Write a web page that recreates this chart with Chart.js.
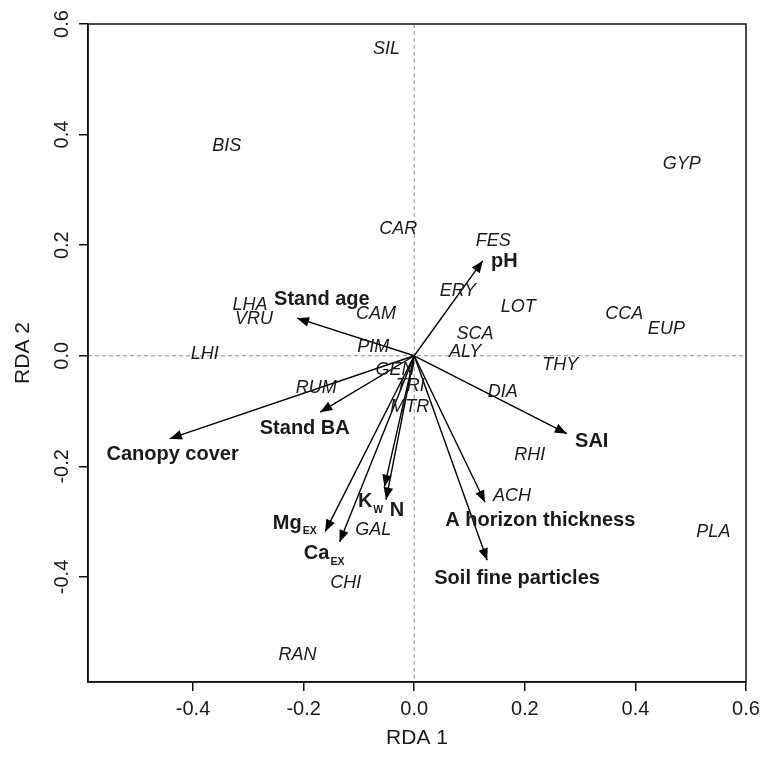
<!DOCTYPE html>
<html><head><meta charset="utf-8">
<script src="https://cdn.jsdelivr.net/npm/chart.js@4/dist/chart.umd.min.js"></script>
<style>html,body{margin:0;padding:0;background:#fff}</style>
</head><body>
<canvas id="c" width="762" height="757"></canvas>
<script>
// Species scores (label positions)
const speciesNames = ['SIL','BIS','GYP','CAR','FES','ERY','LOT','CAM','LHA','VRU','CCA','EUP','SCA','ALY','PIM','LHI','THY','GEN','TRI','RUM','MTR','DIA','RHI','ACH','GAL','PLA','CHI','RAN'];
const speciesX = [-0.050,-0.339,0.484,-0.029,0.143,0.079,0.188,-0.069,-0.297,-0.290,0.380,0.456,0.110,0.092,-0.074,-0.379,0.264,-0.035,-0.007,-0.177,-0.008,0.160,0.209,0.177,-0.074,0.541,-0.124,-0.211];
const speciesY = [0.554,0.380,0.346,0.229,0.208,0.118,0.088,0.075,0.091,0.066,0.076,0.049,0.039,0.007,0.015,0.003,-0.017,-0.025,-0.054,-0.059,-0.093,-0.066,-0.179,-0.254,-0.316,-0.318,-0.411,-0.542];

// Environmental vectors (arrow tips)
const envNames = ['pH','Stand age','Canopy cover','Stand BA','SAI','A horizon thickness','Soil fine particles','Mg','Ca','K','N'];
const envSub   = ['','','','','','','','EX','EX','W',''];
const envX = [0.124,-0.212,-0.442,-0.170,0.276,0.128,0.132,-0.161,-0.135,-0.054,-0.051];
const envY = [0.172,0.068,-0.150,-0.102,-0.141,-0.265,-0.370,-0.318,-0.337,-0.237,-0.260];
// Environmental label positions
const envLabelX = [0.163,-0.167,-0.437,-0.198,0.321,0.228,0.186,-0.216,-0.163,-0.079,-0.031];
const envLabelY = [0.170,0.101,-0.179,-0.131,-0.155,-0.298,-0.402,-0.303,-0.358,-0.264,-0.280];

// Axes
const xTickValues = [-0.4,-0.2,0.0,0.2,0.4,0.6];
const yTickValues = [-0.4,-0.2,0.0,0.2,0.4,0.6];
const xTickLabels = ['-0.4','-0.2','0.0','0.2','0.4','0.6'];
const yTickLabels = ['-0.4','-0.2','0.0','0.2','0.4','0.6'];
const xTitle = 'RDA 1';
const yTitle = 'RDA 2';

const FONT = '"Liberation Sans", Arial, Helvetica, sans-serif';
const TXT = '#1a1a1a';

const datasets = [{
  label: 'species',
  data: speciesX.map((v,i)=>({x:v,y:speciesY[i]})),
  pointRadius: 0, showLine: false
}];
envNames.forEach((n,i)=>{
  datasets.push({
    label: n, type: 'line',
    data: [{x:0,y:0},{x:envX[i],y:envY[i]}],
    borderColor: '#000', borderWidth: 1.4, pointRadius: 0, fill: false, tension: 0
  });
});

const biplot = {
  id: 'biplot',
  beforeDatasetsDraw(chart){
    const {ctx, chartArea:a, scales:{x,y}} = chart;
    const x0 = x.getPixelForValue(0), y0 = y.getPixelForValue(0);
    ctx.save();
    ctx.strokeStyle = '#8c8c8c'; ctx.lineWidth = 1; ctx.setLineDash([4,3]);
    ctx.beginPath();
    ctx.moveTo(a.left, y0); ctx.lineTo(a.right, y0);
    ctx.moveTo(x0, a.top); ctx.lineTo(x0, a.bottom);
    ctx.stroke();
    ctx.restore();
  },
  afterDatasetsDraw(chart){
    const {ctx, scales:{x,y}} = chart;
    const x0 = x.getPixelForValue(0), y0 = y.getPixelForValue(0);
    ctx.save();
    // arrowheads
    ctx.fillStyle = '#000';
    envNames.forEach((n,i)=>{
      const tx = x.getPixelForValue(envX[i]), ty = y.getPixelForValue(envY[i]);
      const ang = Math.atan2(ty-y0, tx-x0);
      const L = 12, W = 4.8;
      const bx = tx - L*Math.cos(ang), by = ty - L*Math.sin(ang);
      ctx.beginPath();
      ctx.moveTo(tx, ty);
      ctx.lineTo(bx + W*Math.sin(ang), by - W*Math.cos(ang));
      ctx.lineTo(bx - W*Math.sin(ang), by + W*Math.cos(ang));
      ctx.closePath();
      ctx.fill();
    });
    // species labels
    ctx.fillStyle = TXT;
    ctx.font = 'italic 18px ' + FONT;
    ctx.textAlign = 'center'; ctx.textBaseline = 'middle';
    speciesNames.forEach((n,i)=>{
      ctx.fillText(n, x.getPixelForValue(speciesX[i]), y.getPixelForValue(speciesY[i]));
    });
    // env labels
    envNames.forEach((n,i)=>{
      const px = x.getPixelForValue(envLabelX[i]), py = y.getPixelForValue(envLabelY[i]);
      ctx.font = 'bold 20px ' + FONT;
      const w1 = ctx.measureText(n).width;
      let w2 = 0;
      if (envSub[i]) { ctx.font = 'bold 10.5px ' + FONT; w2 = ctx.measureText(envSub[i]).width + 1; }
      const left = px - (w1 + w2)/2;
      ctx.textAlign = 'left'; ctx.textBaseline = 'middle';
      ctx.font = 'bold 20px ' + FONT;
      ctx.fillText(n, left, py);
      if (envSub[i]) {
        ctx.font = 'bold 10.5px ' + FONT;
        ctx.textBaseline = 'alphabetic';
        ctx.fillText(envSub[i], left + w1 + 1, py + 11);
      }
    });
    ctx.restore();
  },
  afterDraw(chart){
    const {ctx, chartArea:a, scales:{x,y}} = chart;
    ctx.save();
    ctx.strokeStyle = '#111'; ctx.lineWidth = 1.5;
    ctx.strokeRect(a.left, a.top, a.right-a.left, a.bottom-a.top);
    ctx.fillStyle = TXT;
    ctx.font = '20px ' + FONT;
    ctx.textAlign = 'center'; ctx.textBaseline = 'middle';
    xTickValues.forEach((v,i)=>{
      ctx.fillText(xTickLabels[i], x.getPixelForValue(v), 709);
    });
    yTickValues.forEach((v,i)=>{
      ctx.save();
      ctx.translate(62.5, y.getPixelForValue(v));
      ctx.rotate(-Math.PI/2);
      ctx.fillText(yTickLabels[i], 0, 0);
      ctx.restore();
    });
    ctx.font = '21px ' + FONT;
    ctx.fillText(xTitle, (a.left+a.right)/2, 738);
    ctx.save();
    ctx.translate(23.5, (a.top+a.bottom)/2);
    ctx.rotate(-Math.PI/2);
    ctx.fillText(yTitle, 0, 0);
    ctx.restore();
    ctx.restore();
  }
};

new Chart(document.getElementById('c'), {
  type: 'scatter',
  data: { datasets },
  options: {
    responsive: false, animation: false, devicePixelRatio: 1,
    layout: { padding: { top: 24, right: 16, left: 0, bottom: 0 } },
    plugins: { legend: {display:false}, tooltip: {enabled:false} },
    scales: {
      x: {
        type: 'linear', min: -0.59, max: 0.6,
        afterBuildTicks: s => { s.ticks = xTickValues.map(v=>({value:v})); },
        afterFit: s => { s.height = 75; },
        ticks: { display: false },
        grid: { display: true, drawOnChartArea: false, drawTicks: true, tickLength: 9, color: '#111', lineWidth: 1.5 },
        border: { display: true, color: '#111', width: 1.5 }
      },
      y: {
        type: 'linear', min: -0.59, max: 0.6,
        afterBuildTicks: s => { s.ticks = yTickValues.map(v=>({value:v})); },
        afterFit: s => { s.width = 88; },
        ticks: { display: false },
        grid: { display: true, drawOnChartArea: false, drawTicks: true, tickLength: 9, color: '#111', lineWidth: 1.5 },
        border: { display: true, color: '#111', width: 1.5 }
      }
    }
  },
  plugins: [biplot]
});
</script>
</body></html>
